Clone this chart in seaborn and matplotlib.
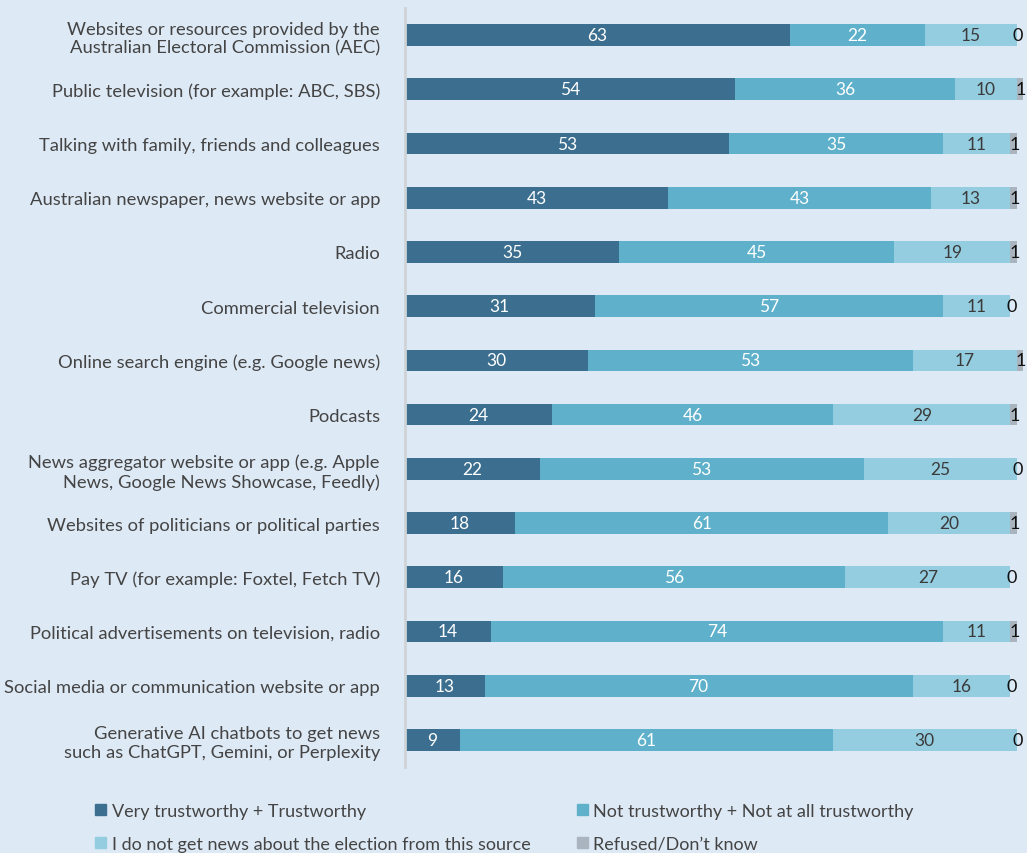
import matplotlib
matplotlib.use("Agg")
import matplotlib.pyplot as plt
import matplotlib.patches as mpatches
import numpy as np
import pandas as pd
import seaborn as sns

sources = [
    "Websites or resources provided by the\nAustralian Electoral Commission (AEC)",
    "Public television (for example: ABC, SBS)",
    "Talking with family, friends and colleagues",
    "Australian newspaper, news website or app",
    "Radio",
    "Commercial television",
    "Online search engine (e.g. Google news)",
    "Podcasts",
    "News aggregator website or app (e.g. Apple\nNews, Google News Showcase, Feedly)",
    "Websites of politicians or political parties",
    "Pay TV (for example: Foxtel, Fetch TV)",
    "Political advertisements on television, radio",
    "Social media or communication website or app",
    "Generative AI chatbots to get news\nsuch as ChatGPT, Gemini, or Perplexity",
]
trustworthy = [63, 54, 53, 43, 35, 31, 30, 24, 22, 18, 16, 14, 13, 9]
not_trustworthy = [22, 36, 35, 43, 45, 57, 53, 46, 53, 61, 56, 74, 70, 61]
no_news = [15, 10, 11, 13, 19, 11, 17, 29, 25, 20, 27, 11, 16, 30]
refused = [0, 1, 1, 1, 1, 0, 1, 1, 0, 1, 0, 1, 0, 0]

series_names = [
    "Very trustworthy + Trustworthy",
    "Not trustworthy + Not at all trustworthy",
    "I do not get news about the election from this source",
    "Refused/Don\u2019t know",
]
colors = ["#3b6e8f", "#5fb1cb", "#94cde0", "#aab4be"]
bg = "#dde9f5"

plt.rcParams["font.family"] = ["Lato", "DejaVu Sans"]

df = pd.DataFrame({
    "source": sources,
    series_names[0]: trustworthy,
    series_names[1]: not_trustworthy,
    series_names[2]: no_news,
    series_names[3]: refused,
})
values = df[series_names].to_numpy(dtype=float)
cum = np.cumsum(values, axis=1)

fig = plt.figure(figsize=(10.27, 8.54), dpi=100, facecolor=bg)
ax = fig.add_axes([405 / 1027, 86 / 854, 622 / 1027, 759 / 854])
ax.set_facecolor(bg)

# Layer cumulative bars from the outermost segment inward
for k in range(3, -1, -1):
    layer = pd.DataFrame({"source": sources, "value": cum[:, k]})
    sns.barplot(data=layer, x="value", y="source", orient="h", color=colors[k],
                width=0.4, saturation=1, ax=ax, order=sources)

ax.set_xlim(0, 101.7)
ax.set_ylim(13.5, -0.5)
ax.set_xlabel("")
ax.set_ylabel("")
ax.set_xticks([])
ax.tick_params(axis="y", length=0, pad=18, labelsize=13.2, labelcolor="#444444")
for s in ["top", "right", "bottom"]:
    ax.spines[s].set_visible(False)
ax.spines["left"].set_color("#cfd3d6")
ax.spines["left"].set_linewidth(2)

for i in range(len(sources)):
    for k in range(3):
        v = values[i, k]
        center = cum[i, k] - v / 2
        txt_color = "white" if k < 2 else "#3a3a3a"
        ax.text(center, i, f"{int(v)}", ha="center", va="center",
                color=txt_color, fontsize=12.5)
    v = values[i, 3]
    ax.text(cum[i, 3] - v / 2 + 0.15, i, f"{int(v)}", ha="center", va="center",
            color="#111111", fontsize=13)

handles = [mpatches.Patch(color=c, label=n) for c, n in zip(colors, series_names)]
order = [0, 2, 1, 3]
fig.legend([handles[j] for j in order], [series_names[j] for j in order],
           ncol=2, loc="lower left", bbox_to_anchor=(79 / 1027, -15 / 854),
           frameon=False, fontsize=13, handlelength=0.6, handleheight=0.6,
           handletextpad=0.3, columnspacing=2.6, labelspacing=0.95,
           labelcolor="#444444")

fig.savefig("out.png", dpi=100, facecolor=bg)
